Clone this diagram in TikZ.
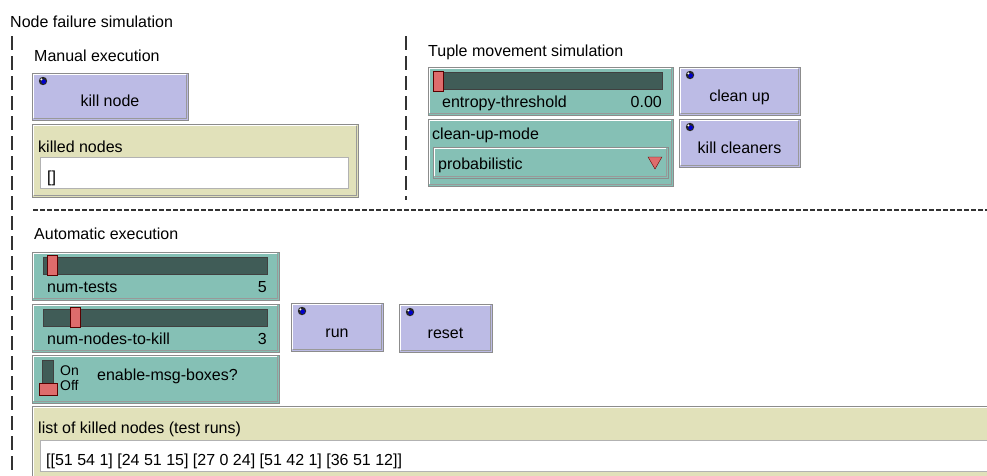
\documentclass[tikz,border=0pt]{standalone}
\usepackage{fontspec}
\setmainfont{Liberation Sans}
\usetikzlibrary{calc,shapes.geometric}

\definecolor{btnfill}{RGB}{188,187,229}
\definecolor{sldfill}{RGB}{133,192,181}
\definecolor{trackfill}{RGB}{64,92,87}
\definecolor{thumbfill}{RGB}{222,108,108}
\definecolor{monfill}{RGB}{225,225,186}

% raised edge drawn inside every widget
\newcommand{\bevelpic}{%
  \draw[white,line width=1.5pt] ([shift={(1.6pt,1.6pt)}]path picture bounding box.south west)
    |- ([shift={(-1.6pt,-1.6pt)}]path picture bounding box.north east);
  \draw[black!40,line width=1.5pt] ([shift={(1.6pt,1.6pt)}]path picture bounding box.south west)
    -| ([shift={(-1.6pt,-1.6pt)}]path picture bounding box.north east);}
% small round mark in the corner of a button
\newcommand{\btnicon}{%
  \fill[black!85] ([shift={(11pt,-8pt)}]path picture bounding box.north west) circle (4.2pt);
  \fill[blue!80!black] ([shift={(11.6pt,-8.6pt)}]path picture bounding box.north west) circle (2.3pt);
  \fill[white] ([shift={(9.4pt,-6.4pt)}]path picture bounding box.north west) circle (1.1pt);}

\begin{document}
\begin{tikzpicture}
    [x=1pt, y=-1pt,
     font=\fontsize{16}{19}\selectfont,
     widget/.style={draw=black!45,line width=1pt,anchor=north west,inner sep=0pt,outer sep=0pt,
       path picture={\bevelpic}},
     button/.style={widget,fill=btnfill,text height=20pt,text depth=0pt,
       path picture={\bevelpic\btnicon}},
     slider/.style={widget,fill=sldfill},
     monitor/.style={widget,fill=monfill},
     track/.style={draw=black!75,fill=trackfill,anchor=north west,inner sep=0pt,minimum height=17},
     thumb/.style={draw=red!35!black,fill=thumbfill,anchor=north west,inner sep=0pt,
       minimum width=10,minimum height=20},
     field/.style={draw=black!30,fill=white,anchor=north west,inner sep=0pt},
     lbl/.style={anchor=base west,inner sep=0pt},
     smalllbl/.style={lbl,font=\fontsize{14}{14}\selectfont}]
    \useasboundingbox (0,0) rectangle (987,475);
    \clip (0,0) rectangle (987,475);

    % Title
    \node (title) [lbl] at (10,27) {Node failure simulation};

    % Separators
    \coordinate (lefttop) at (12,36);
    \coordinate (leftbot) at (12,475);
    \coordinate (midtop) at (406,36);
    \coordinate (midbot) at (406,200);
    \coordinate (hleft) at (33,210);
    \coordinate (hright) at (987,210);
    \draw [black!80,line width=1.3pt,dash pattern=on 14pt off 6pt] (lefttop) -- (leftbot);
    \draw [black!80,line width=1.3pt,dash pattern=on 14pt off 6pt] (midtop) -- (midbot);
    \draw [black!80,line width=1.3pt,dash pattern=on 5pt off 2pt] (hleft) -- (hright);

    % Manual execution
    \node (manhead) [lbl] at (34,61) {Manual execution};
    \node (killbtn) [button,minimum width=156,minimum height=47] at (32,73) {kill node};
    \node (killmon) [monitor,minimum width=326,minimum height=73] at (32,124) {};
    \node (killlbl) [lbl] at ($(killmon.north west)+(6,28)$) {killed nodes};
    \node (killfld) [field,minimum width=308,minimum height=31] at ($(killmon.north west)+(8,33)$) {};
    \node (killval) [lbl] at ($(killfld.north west)+(7,25)$) {[]};

    % Tuple movement simulation
    \node (tuplehead) [lbl] at (428,56) {Tuple movement simulation};
    \node (eth) [slider,minimum width=245,minimum height=48] at (428,67) {};
    \node (ethtrack) [track,minimum width=229] at ($(eth.north west)+(5,5)$) {};
    \node (eththumb) [thumb] at ($(eth.north west)+(5,4)$) {};
    \node (ethlbl) [lbl] at ($(eth.north west)+(14,40)$) {entropy-threshold};
    \node (ethval) [lbl,anchor=base east] at ($(eth.north west)+(234,40)$) {0.00};
    \node (cleanbtn) [button,minimum width=121,minimum height=48] at (679,67) {clean up};

    \node (mode) [slider,minimum width=245,minimum height=67] at (428,119) {};
    \node (modelbl) [lbl] at ($(mode.north west)+(4,20)$) {clean-up-mode};
    \node (modefld) [slider,minimum width=235,minimum height=31] at ($(mode.north west)+(5,28)$) {};
    \node (modeval) [lbl] at ($(modefld.north west)+(5,22)$) {probabilistic};
    \node (modetri) [regular polygon,regular polygon sides=3,shape border rotate=180,
      fill=thumbfill,draw=red!40!black,inner sep=0pt,minimum size=16]
      at ($(modefld.north east)+(-13,14)$) {};
    \node (killclbtn) [button,minimum width=121,minimum height=48] at (679,119) {kill cleaners};

    % Automatic execution
    \node (autohead) [lbl] at (34,239) {Automatic execution};
    \node (ntests) [slider,minimum width=247,minimum height=48] at (32,252) {};
    \node (ntesttrack) [track,minimum width=224] at ($(ntests.north west)+(11,5)$) {};
    \node (ntestthumb) [thumb] at ($(ntests.north west)+(15,3)$) {};
    \node (ntestlbl) [lbl] at ($(ntests.north west)+(15,40)$) {num-tests};
    \node (ntestval) [lbl,anchor=base east] at ($(ntests.north west)+(235,40)$) {5};

    \node (nkill) [slider,minimum width=247,minimum height=48] at (32,304) {};
    \node (nkilltrack) [track,minimum width=224] at ($(nkill.north west)+(11,5)$) {};
    \node (nkillthumb) [thumb] at ($(nkill.north west)+(38,3)$) {};
    \node (nkilllbl) [lbl] at ($(nkill.north west)+(15,40)$) {num-nodes-to-kill};
    \node (nkillval) [lbl,anchor=base east] at ($(nkill.north west)+(235,40)$) {3};

    \node (runbtn) [button,minimum width=92,minimum height=48] at (291,303) {run};
    \node (resetbtn) [button,minimum width=93,minimum height=48] at (399,304) {reset};

    \node (msgsw) [slider,minimum width=247,minimum height=48] at (32,355) {};
    \node (msgtrack) [track,minimum width=11,minimum height=24] at ($(msgsw.north west)+(10,5)$) {};
    \node (msgthumb) [thumb,minimum width=18,minimum height=12] at ($(msgsw.north west)+(7,28)$) {};
    \node (msgon) [smalllbl] at ($(msgsw.north west)+(28,20)$) {On};
    \node (msgoff) [smalllbl] at ($(msgsw.north west)+(28,35)$) {Off};
    \node (msglbl) [lbl] at ($(msgsw.north west)+(65,25)$) {enable-msg-boxes?};

    \node (listmon) [monitor,minimum width=970,minimum height=80] at (32,406) {};
    \node (listlbl) [lbl] at ($(listmon.north west)+(6,27)$) {list of killed nodes (test runs)};
    \node (listfld) [field,minimum width=960,minimum height=31] at ($(listmon.north west)+(8,34)$) {};
    \node (listval) [lbl] at ($(listfld.north west)+(6,25)$) {[[51 54 1] [24 51 15] [27 0 24] [51 42 1] [36 51 12]]};
\end{tikzpicture}
\end{document}
